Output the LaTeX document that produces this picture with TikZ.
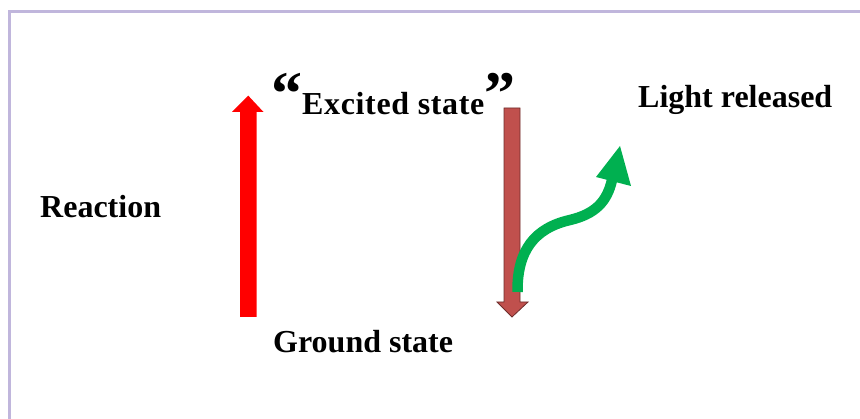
\documentclass[tikz,border=0pt]{standalone}
\usepackage{fontspec}
\setmainfont{Liberation Serif}
\definecolor{framec}{RGB}{192,182,220}
\definecolor{brownred}{RGB}{192,80,77}
\definecolor{brownedge}{RGB}{110,45,43}
\definecolor{lightgreen}{RGB}{0,176,80}
\tikzset{
  lbl/.style={anchor=base west, inner sep=0pt, font=\fontsize{32}{36}\selectfont\bfseries},
}
\begin{document}
\begin{tikzpicture}[x=1pt,y=-1pt]
\useasboundingbox (0,0) rectangle (860,419);
% frame
\draw[framec, line width=3pt] (9,419) -- (9,11.3) -- (860,11.3);
% red arrow (up)
\fill[red] (240,317) -- (240,112) -- (232,112) -- (248.3,95.7) -- (263.5,112) -- (256.7,112) -- (256.7,317) -- cycle;
% brown arrow (down)
\filldraw[fill=brownred, draw=brownedge, line width=0.8pt]
  (504,108) -- (520,108) -- (520,302) -- (528,302) -- (512,317) -- (497,302) -- (504,302) -- cycle;
% green curved arrow
\draw[lightgreen, line width=10.5pt] (517.5,292) .. controls (517,250) and (535,228) .. (570,220) .. controls (595,214) and (607,202) .. (612,180);
\fill[lightgreen] (596,177) -- (620,146) -- (631,186) -- cycle;
% labels
\node[lbl] (reac) at (40,218) {Reaction};
\node[lbl] (exc) at (271,115) {{\fontsize{62}{64}\selectfont “}\addfontfeatures{LetterSpace=2}Excited state{\fontsize{62}{64}\selectfont ”}};
\node[lbl] (gnd) at (273,353) {Ground state};
\node[lbl] (light) at (638,108) {Light released};
\end{tikzpicture}
\end{document}
